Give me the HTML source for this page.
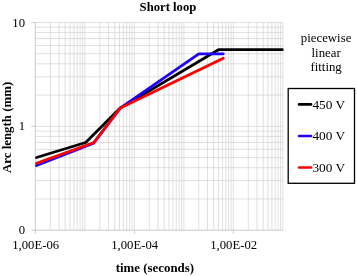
<!DOCTYPE html>
<html><head><meta charset="utf-8"><title>Short loop</title><style>html,body{margin:0;padding:0;background:#fff}svg{display:block}</style></head><body>
<svg width="357" height="276" viewBox="0 0 357 276">
<rect width="357" height="276" fill="#fff"/>
<path d="M50.30 22.5V230.2M59.02 22.5V230.2M65.20 22.5V230.2M70.00 22.5V230.2M73.92 22.5V230.2M77.23 22.5V230.2M80.10 22.5V230.2M82.64 22.5V230.2M84.90 22.5V230.2M99.80 22.5V230.2M108.52 22.5V230.2M114.70 22.5V230.2M119.50 22.5V230.2M123.42 22.5V230.2M126.73 22.5V230.2M129.60 22.5V230.2M132.14 22.5V230.2M134.40 22.5V230.2M149.30 22.5V230.2M158.02 22.5V230.2M164.20 22.5V230.2M169.00 22.5V230.2M172.92 22.5V230.2M176.23 22.5V230.2M179.10 22.5V230.2M181.64 22.5V230.2M183.90 22.5V230.2M198.80 22.5V230.2M207.52 22.5V230.2M213.70 22.5V230.2M218.50 22.5V230.2M222.42 22.5V230.2M225.73 22.5V230.2M228.60 22.5V230.2M231.14 22.5V230.2M233.40 22.5V230.2M248.30 22.5V230.2M257.02 22.5V230.2M263.20 22.5V230.2M268.00 22.5V230.2M271.92 22.5V230.2M275.23 22.5V230.2M278.10 22.5V230.2M280.64 22.5V230.2M282.90 22.5V230.2M35.4 198.94H282.90M35.4 180.65H282.90M35.4 167.68H282.90M35.4 157.61H282.90M35.4 149.39H282.90M35.4 142.44H282.90M35.4 136.41H282.90M35.4 131.10H282.90M35.4 126.35H282.90M35.4 95.09H282.90M35.4 76.80H282.90M35.4 63.83H282.90M35.4 53.76H282.90M35.4 45.54H282.90M35.4 38.59H282.90M35.4 32.56H282.90M35.4 27.25H282.90M35.4 22.5H282.90" stroke="#cbcbcb" stroke-width="0.6" fill="none"/>
<path d="M35.4 22.5V233.6M31.4 230.2H282.90M31.4 22.5H35.4M31.4 126.35H35.4M134.40 230.2v3.4M233.40 230.2v3.4" stroke="#bcbcbc" stroke-width="0.8" fill="none"/>
<g fill="none" stroke-width="2.8" stroke-linejoin="round" stroke-linecap="round">
<polyline stroke="#000" points="36.5,157.5 85.7,142.5 120.2,108.1 218.5,49.7 282.3,49.7"/>
<polyline stroke="#1f00ff" points="36.5,165.5 93.6,143.2 120.2,108.1 198.8,53.8 223.3,53.8"/>
<polyline stroke="#ff0000" points="36.5,163.3 93.8,142.5 120.2,108.1 223.3,58.3"/>
</g>
<g font-family="'Liberation Serif', serif" font-size="12.7" fill="#000">
<text x="168" y="10.7" text-anchor="middle" font-weight="bold">Short loop</text>
<text x="154.9" y="271.9" text-anchor="middle" font-weight="bold" font-size="12.9">time (seconds)</text>
<text transform="translate(10.6,127.4) rotate(-90)" text-anchor="middle" font-weight="bold" font-size="12.9">Arc length (mm)</text>
<text x="25" y="27" text-anchor="end">10</text>
<text x="25" y="130.2" text-anchor="end">1</text>
<text x="25" y="233.5" text-anchor="end">0</text>
<text x="35.7" y="248.9" text-anchor="middle">1,00E-06</text>
<text x="134.7" y="248.9" text-anchor="middle">1,00E-04</text>
<text x="233.7" y="248.9" text-anchor="middle">1,00E-02</text>
<text x="326.1" y="42.2" text-anchor="middle" font-size="12.8">piecewise</text>
<text x="326.1" y="56.5" text-anchor="middle" font-size="12.8">linear</text>
<text x="326.1" y="70.7" text-anchor="middle" font-size="12.8">fitting</text>
<path d="M299.1 104.4H311" stroke="#000" stroke-width="2.7" stroke-linecap="round"/>
<text x="312.4" y="108.5" font-size="13.3">450 V</text>
<path d="M299.1 136.0H311" stroke="#1f00ff" stroke-width="2.7" stroke-linecap="round"/>
<text x="312.4" y="140.1" font-size="13.3">400 V</text>
<path d="M299.1 167.5H311" stroke="#ff0000" stroke-width="2.7" stroke-linecap="round"/>
<text x="312.4" y="171.6" font-size="13.3">300 V</text>
</g>
<rect x="288.2" y="88.5" width="66.3" height="94.8" fill="none" stroke="#000" stroke-width="1.3"/>
</svg>
</body></html>
